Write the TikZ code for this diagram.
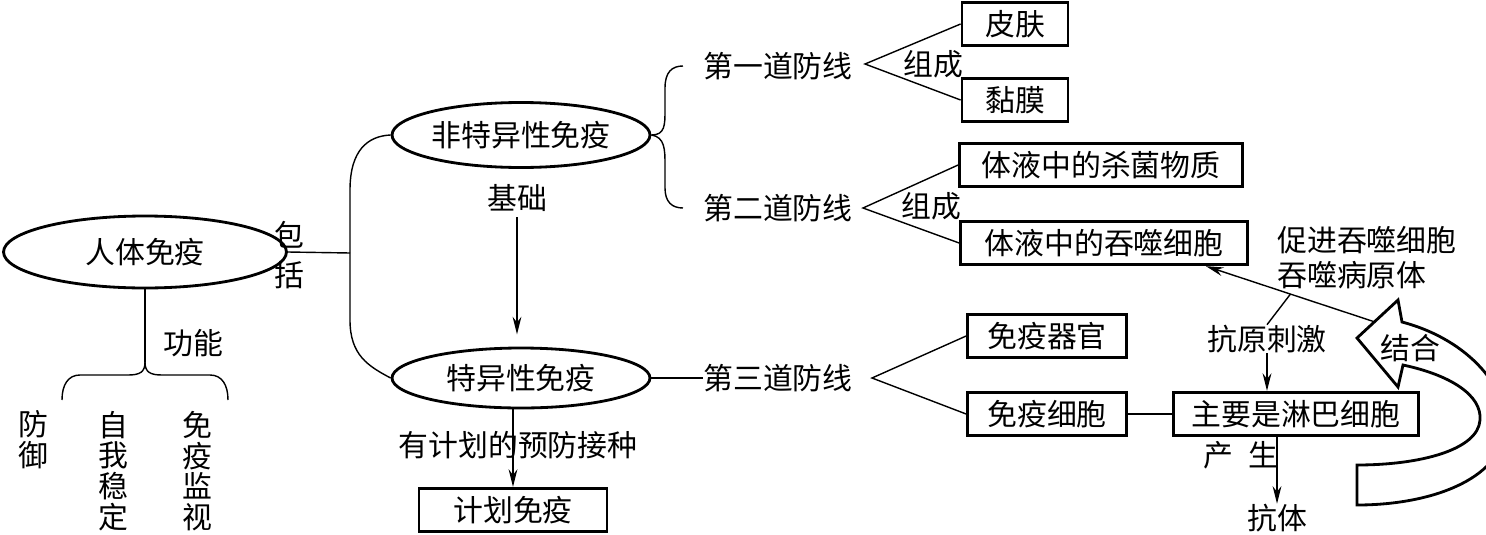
\documentclass[tikz,border=0pt]{standalone}
\usepackage{fontspec}
\setmainfont{Noto Sans CJK SC}
\usepackage{tikz}
\usetikzlibrary{
  arrows.meta,
  positioning,
  calc,
  shapes.geometric,
}

\begin{document}
\begin{tikzpicture}[
  x=0.02cm, y=-0.02cm,
  font=\fontsize{17}{20}\selectfont,
  every node/.style={align=center, inner sep=0pt},
  oval/.style={ellipse, draw=black, line width=1.6pt,
               minimum width=5.16cm, minimum height=1.3cm},
  box/.style={draw=black, line width=1.6pt, minimum height=0.87cm},
  vtext/.style={font=\fontsize{17}{17.5}\selectfont},
  link/.style={line width=0.8pt},
  arr/.style={link, -{Stealth[length=10pt,width=5pt]}},
]

\useasboundingbox (0,0) rectangle (1486,534);
\clip (0,0) rectangle (1486,534);

% left part
\node[oval, minimum width=5.66cm, minimum height=1.44cm] (body) at (145,252) {人体免疫};
\node[font=\fontsize{17}{23}\selectfont] (incltxt) at (289,255) {包\\括};
\node (func) at (193,343) {功能};
\foreach \name/\x/\y/\txt in
  {defend/33/440/{防\\御}, stable/113/471/{自\\我\\稳\\定},
   watch/197/471/{免\\疫\\监\\视}}{
  \node[vtext] (\name) at (\x,\y) {\txt};
}

\coordinate (incl) at (350,253);
\coordinate (fn) at (145,362);
\draw[link] (body.east) -- (incl);
\draw[link] (body.south) -- (fn);
\draw[link] (fn) .. controls (145,372) and (140,375) .. (128,375) -- (80,375)
  .. controls (68,375) and (62,385) .. (62,400);
\draw[link] (fn) .. controls (145,372) and (150,375) .. (162,375) -- (210,375)
  .. controls (222,375) and (228,385) .. (228,400);

% middle part
\node[oval] (nonspec) at (521,135) {非特异性免疫};
\node[oval, minimum height=1.2cm] (spec) at (521,378) {特异性免疫};
\node (basis) at (517,198) {基础};
\node (vaccinate) at (518,445) {有计划的预防接种};
\node[box, minimum width=3.76cm] (plan) at (513,510) {计划免疫};

\draw[link] (nonspec.west) .. controls (368,136) and (350,150) .. (350,190)
  -- (350,320) .. controls (350,355) and (368,366) .. (spec.west);
\draw[arr, shorten <=3pt, shorten >=7pt] (basis.south) -- (basis.south |- spec.north);
\draw[arr] (spec.south -| plan.north) -- (plan.north);

% lines of defence
\node (line1) at (778,66) {第一道防线};
\node (line2) at (778,208) {第二道防线};
\node (line3) at (778,378) {第三道防线};
\node (comp1) at (933,64) {组成};
\node (comp2) at (931,206) {组成};

\coordinate (top1) at ($(line1.west)+(-20,0)$);
\coordinate (top2) at ($(line2.west)+(-20,0)$);
\draw[link] (nonspec.east) .. controls (665,135) and (665,125) .. (665,110)
  -- (665,88) .. controls (665,72) and (672,66) .. (top1);
\draw[link] (nonspec.east) .. controls (665,137) and (665,150) .. (665,165)
  -- (665,188) .. controls (665,202) and (672,208) .. (top2);
\draw[link] (spec.east) -- (line3.west);

\node[box, minimum width=2.12cm] (skin) at (1015,24) {皮肤};
\node[box, minimum width=2.12cm] (mucosa) at (1015,100) {黏膜};
\node[box, minimum width=5.66cm] (bactericide) at (1101,165) {体液中的杀菌物质};
\node[box, minimum width=5.74cm] (phago) at (1104,243) {体液中的吞噬细胞};
\node[box, minimum width=3.18cm] (organ) at (1047,336) {免疫器官};
\node[box, minimum width=3.18cm] (cell) at (1047,414) {免疫细胞};
\node[box, minimum width=4.9cm] (lymph) at (1296,414) {主要是淋巴细胞};

\coordinate (fork1) at (865,64);
\coordinate (fork2) at (863,208);
\coordinate (fork3) at (872,378);
\draw[link] (skin.west) -- (fork1) -- (mucosa.west);
\draw[link] (bactericide.west) -- (fork2) -- (phago.west);
\draw[link] (organ.west) -- (fork3) -- (cell.west);
\draw[link] (cell) -- (lymph);

% right part
\node[anchor=west, align=left] (promote) at (1277,258) {促进吞噬细胞\\吞噬病原体};
\node (antigen) at (1267,339) {抗原刺激};
\node (produce) at (1241,455) {产\hspace{0.5em}生};
\node (antibody) at (1277,518) {抗体};

\draw[line width=1.6pt, fill=white]
  (1357,505) .. controls (1430,505) and (1500,480) .. (1505,430)
  .. controls (1510,390) and (1470,340) .. (1402,322)
  -- (1398,300) -- (1357,338) -- (1398,387) -- (1403,365)
  .. controls (1450,375) and (1482,395) .. (1480,420)
  .. controls (1478,450) and (1420,465) .. (1357,465) -- cycle;
\node (bind) at (1410,348) {结合};

\coordinate (bindback) at (1375,322);
\coordinate (hit) at ($(phago.south east)+(-43,0)$);
\draw[arr] (bindback) -- (hit) coordinate[pos=0.5] (mid);
\draw[link] (antigen.north) -- (mid);
\draw[arr] (antigen.south) -- (antigen.south |- lymph.north);
\draw[arr] (lymph.south -| antibody.north) -- (antibody.north);

\end{tikzpicture}
\end{document}
